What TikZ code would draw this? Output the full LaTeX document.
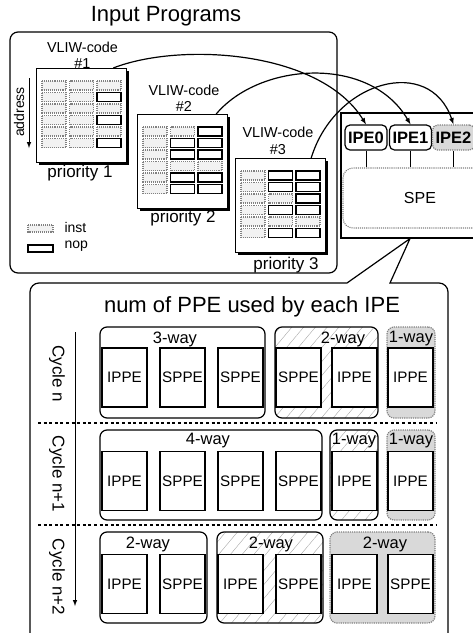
\documentclass[tikz,border=0pt]{standalone}
\usepackage{fontspec}
\setmainfont{Liberation Sans}
\usetikzlibrary{calc,fit,shadows,patterns.meta}

\tikzset{
	box/.style={draw, line width=1.2pt, inner sep=0pt},
	code/.style={box, fill=white, minimum width=90, minimum height=94, anchor=north west,
		drop shadow={shadow xshift=2.5pt, shadow yshift=-2.5pt, fill=black, opacity=1}},
	inst/.style={draw=gray, densely dotted, line width=1.1pt, fill=gray!10},
	nop/.style={draw=black, line width=1.4pt, fill=white},
	vliw/.style={align=center, font=\fontsize{14.4}{16.5}\selectfont},
	prio/.style={font=\fontsize{17}{19}\selectfont},
	ipe/.style={box, rounded corners=5pt, fill=white, minimum width=42, minimum height=25,
		font=\bfseries\fontsize{16.5}{18}\selectfont},
	ipeoff/.style={ipe, draw=gray, densely dotted, fill=gray!30},
	spebox/.style={draw=gray, densely dotted, line width=1.1pt, rounded corners=10pt,
		minimum width=154, minimum height=60, font=\fontsize{16}{18}\selectfont},
	grp/.style={box, rounded corners=7pt},
	grph/.style={grp, pattern={Lines[angle=50,distance=9pt,line width=0.4pt]}, pattern color=gray!70},
	grpd/.style={grp, draw=gray, densely dotted, fill=gray!30},
	way/.style={font=\fontsize{16.5}{18}\selectfont},
	pe/.style={box, line width=1.4pt, fill=white, minimum width=45, minimum height=59,
		font=\fontsize{15.2}{17}\selectfont},
	cyc/.style={rotate=-90, font=\fontsize{17}{19}\selectfont},
	sep/.style={line width=2.6pt, dash pattern=on 3pt off 2.6pt},
	arr/.style={-latex, line width=1.2pt}
}

% cells of one VLIW code block: #1 node, #2 list of nop cells col/row
\newcommand{\codecells}[2]{%
	\foreach \r in {0,...,5}
		\foreach \c in {0,1,2}
			\draw[inst] ([shift={(6+\c*27.5,13+\r*11.5)}]#1.north west) rectangle ++(24,9);
	\foreach \c/\r in {#2}
		\draw[nop] ([shift={(6+\c*27.5,13+\r*11.5)}]#1.north west) rectangle ++(24,9);
}

\begin{document}
\begin{tikzpicture}[x=1pt, y=-1pt]
	\clip (0,0) rectangle (473,633);
	
	% input programs
	\node[font=\fontsize{22}{24}\selectfont] (title) at (166,16) {Input Programs};
	\node[box, rounded corners=8pt, minimum width=327, minimum height=241] (inbox) at (173.5,152.5) {};
	
	\node[vliw] (lab1) at (82.5,55.5) {VLIW-code\\\#1};
	\node[vliw] (lab2) at (184,98.5) {VLIW-code\\\#2};
	\node[vliw] (lab3) at (278,141) {VLIW-code\\\#3};
	
	\node[code] (code1) at (36,68) {};
	\node[code] (code2) at (137,114) {};
	\node[code] (code3) at (235,158) {};
	\codecells{code1}{2/1,2/3,2/5}
	\codecells{code2}{2/0,1/1,2/1,1/2,2/2,1/4,2/4,1/5,2/5}
	\codecells{code3}{1/0,2/0,1/1,2/1,2/2,1/3,2/3,1/5,2/5}
	
	\node[prio] (prio1) at (80,173) {priority 1};
	\node[prio] (prio2) at (183,218) {priority 2};
	\node[prio] (prio3) at (286,265) {priority 3};
	
	% address arrow
	\coordinate (atop) at (29,78);
	\coordinate (abot) at (29,148);
	\draw[-latex, line width=1pt] (atop) -- (abot);
	\node[rotate=90, font=\fontsize{14}{16}\selectfont] (addr) at (19,112) {address};
	
	% legend
	\draw[inst] (28,225) rectangle (53,232);
	\draw[nop] (28,245) rectangle (53,252);
	\node[anchor=west, font=\fontsize{14}{16}\selectfont] (linst) at (61,227) {inst};
	\node[anchor=west, font=\fontsize{14}{16}\selectfont] (lnop) at (61,246) {nop};
	
	% core with IPEs and SPE
	\node[box, minimum width=150, minimum height=125] (core) at (416,175.5) {};
	\node[ipe] (ipe0) at (366,137.5) {IPE0};
	\node[ipe] (ipe1) at (410.5,137.5) {IPE1};
	\node[ipeoff] (ipe2) at (453.5,137.5) {IPE2};
	\node[spebox] (spe) at (420,198) {SPE};
	\foreach \n in {0,1,2}
		\draw[line width=1pt] (ipe\n.south) -- (ipe\n.south |- spe.north);
	
	\draw[arr] ([xshift=-14pt]code1.north east) .. controls (180,42) and (320,50) .. (ipe0.north);
	\draw[arr] ([xshift=-12pt]code2.north east) .. controls (260,62) and (370,55) .. (ipe1.north);
	\draw[arr] ([xshift=-15pt]code3.north east) .. controls (335,80) and (430,55) .. (ipe2.north);
	
	% zoomed view
	\coordinate (apex) at ($(core.south)+(-6,0)$);
	\draw[line width=1.2pt] (apex) -- (347,283) [rounded corners=9pt] -- (30,283) -- (30,645)
		-- (448,645) -- (448,283) [sharp corners] -- (390,283) -- (apex);
	\node[font=\fontsize{22}{24}\selectfont] (ztitle) at (252,307) {num of PPE used by each IPE};
	
	\coordinate (ctop) at (75,332);
	\coordinate (cbot) at (75,606);
	\draw[-latex, line width=1pt] (ctop) -- (cbot);
	\node[cyc] (cyc0) at (57,374) {Cycle n};
	\node[cyc] (cyc1) at (57,474) {Cycle n+1};
	\node[cyc] (cyc2) at (57,577) {Cycle n+2};
	\draw[sep] (38,423) -- (436,423);
	\draw[sep] (38,525) -- (436,525);
	
	% groups of PPEs
	\node[grp, fit={(100,327) (265,418)}] (g1a) {};
	\node[grph, fit={(275,327) (378,418)}] (g1b) {};
	\node[grpd, fit={(387,327) (435,418)}] (g1c) {};
	\node[grp, fit={(100,430) (322,520)}] (g2a) {};
	\node[grph, fit={(330,430) (378,520)}] (g2b) {};
	\node[grpd, fit={(387,430) (435,520)}] (g2c) {};
	\node[grp, fit={(100,532) (207,623)}] (g3a) {};
	\node[grph, fit={(217,532) (323,623)}] (g3b) {};
	\node[grpd, fit={(330,532) (435,623)}] (g3c) {};
	
	\node[way] (w1a) at (175,339) {3-way};
	\node[way] (w1b) at (343,339) {2-way};
	\node[way] (w1c) at (411,339) {1-way};
	\node[way] (w2a) at (208,441) {4-way};
	\node[way] (w2b) at (354,441) {1-way};
	\node[way] (w2c) at (411,441) {1-way};
	\node[way] (w3a) at (148,544) {2-way};
	\node[way] (w3b) at (271,544) {2-way};
	\node[way] (w3c) at (385,544) {2-way};
	
	\foreach \j/\y/\a/\b/\c/\d/\e/\f in {1/377.5/IPPE/SPPE/SPPE/SPPE/IPPE/IPPE,
		2/481/IPPE/SPPE/SPPE/SPPE/IPPE/IPPE, 3/584/IPPE/SPPE/IPPE/SPPE/IPPE/SPPE} {
		\foreach \x/\t [count=\i] in {124.5/\a,182.5/\b,240.5/\c,298.5/\d,354.5/\e,410.5/\f}
			\node[pe] (pe\j\i) at (\x,\y) {\t};
	}
	
\end{tikzpicture}
\end{document}
